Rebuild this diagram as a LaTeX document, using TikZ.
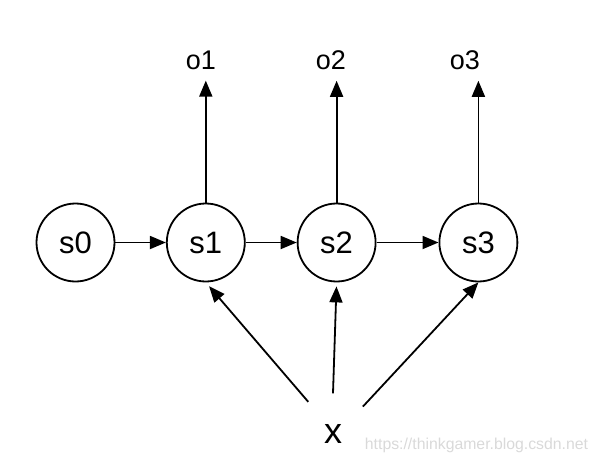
\documentclass[tikz,border=0pt]{standalone}
\usepackage{fontspec}
\setmainfont{Liberation Sans}
\usetikzlibrary{positioning,arrows.meta}
\tikzset{
  st/.style={circle,draw=black,line width=1.8pt,minimum size=78pt,inner sep=0pt,
             font=\fontsize{31}{36}\selectfont},
  outlbl/.style={inner sep=0pt,font=\fontsize{27}{32}\selectfont},
  inlbl/.style={circle,minimum size=80pt,inner sep=0pt,font=\fontsize{36}{40}\selectfont},
  flow/.style={-{Triangle[length=16pt,width=13pt]},line width=1.8pt},
}

\begin{document}
\begin{tikzpicture}[x=1pt,y=-1pt]
  \useasboundingbox (0,0) rectangle (598,464);
  % ===== hidden states =====
  \node[st]                   (s0) at (75.5,242.5) {s0};
  \node[st,right=50.5pt of s0] (s1) {s1};
  \node[st,right=51pt of s1]   (s2) {s2};
  \node[st,right=62pt of s2]   (s3) {s3};
  \draw[flow] (s0)--(s1); \draw[flow] (s1)--(s2); \draw[flow] (s2)--(s3);

  % ===== outputs =====
  \node[outlbl] (o1) at (201,60) {o1};
  \node[outlbl] (o2) at (331,60) {o2};
  \node[outlbl] (o3) at (465,60) {o3};
  \draw[flow,shorten >=11pt] (s1.north)--(s1.north |- o1.south);
  \draw[flow,shorten >=11pt] (s2.north)--(s2.north |- o2.south);
  \draw[flow,shorten >=11pt] (s3.north)--(s3.north |- o3.south);

  % ===== input =====
  \node[inlbl] (x) at (333,433.5) {x};
  \draw[flow,shorten >=5pt] (x.128)--(s1.south);
  \draw[flow,shorten >=4pt] (x.north)--(s2.south);
  \draw[flow] (x.42)--(s3.south);

  \node[text=gray!30,inner sep=0pt,font=\fontsize{15.8}{18}\selectfont] (wm) at (476.5,445)
       {https://thinkgamer.blog.csdn.net};
\end{tikzpicture}
\end{document}
